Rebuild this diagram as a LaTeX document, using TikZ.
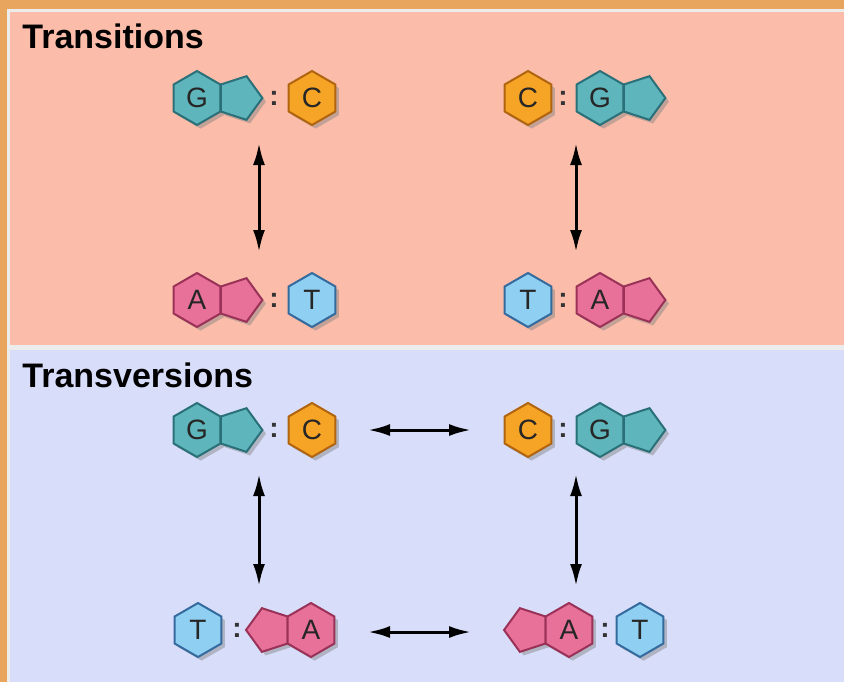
\documentclass[tikz,border=0pt]{standalone}
\usepackage{fontspec}
\setmainfont{Liberation Sans}
\usetikzlibrary{shapes.geometric, shadows, arrows.meta}

\definecolor{bgorange}{HTML}{E8A55E}
\definecolor{panelpink}{HTML}{FBBDAA}
\definecolor{panelblue}{HTML}{D8DDFA}
\definecolor{gfill}{HTML}{5FB5BC}\definecolor{gline}{HTML}{2A7078}
\definecolor{cfill}{HTML}{F6A425}\definecolor{cline}{HTML}{B06410}
\definecolor{afill}{HTML}{E8719A}\definecolor{aline}{HTML}{9A3258}
\definecolor{tfill}{HTML}{8FCFF2}\definecolor{tline}{HTML}{346A9E}

\tikzset{
  base/.style={regular polygon, inner sep=0pt, line width=1pt,
    font=\fontsize{14}{16}\selectfont, text=black!85,
    drop shadow={shadow xshift=1.8pt, shadow yshift=-1.8pt, opacity=.45}},
  hexbase/.style={base, regular polygon sides=6, minimum size=27pt, shape border rotate=30},
  pentbase/.style={base, regular polygon sides=5, minimum size=22.97pt},
  pentright/.style={pentbase, shape border rotate=-90},
  pentleft/.style={pentbase, shape border rotate=90},
  gbase/.style={fill=gfill, draw=gline},
  cbase/.style={fill=cfill, draw=cline},
  abase/.style={fill=afill, draw=aline},
  tbase/.style={fill=tfill, draw=tline},
  pairdots/.style={font=\fontsize{14}{14}\bfseries, text=black!80, inner sep=0pt},
  heading/.style={anchor=west, font=\fontsize{17}{20}\bfseries, inner sep=0pt},
  mutarrow/.style={{Latex[length=11pt,width=6pt]}-{Latex[length=11pt,width=6pt]}, line width=1.5pt}
}

\begin{document}
\begin{tikzpicture}[x=0.5pt, y=-0.5pt]
  % background and the two panels
  \fill[bgorange] (0,0) rectangle (844,682);
  \fill[white!85!gray] (7,9) rectangle (844,682);
  \fill[panelpink] (10,12) rectangle (844,345);
  \fill[panelblue] (10,350) rectangle (844,682);
  \useasboundingbox (0,0) rectangle (844,682);

  \node[heading] (hTs) at (22,36) {Transitions};
  \node[heading] (hTv) at (22,375) {Transversions};

  % transitions, top row
  \node[hexbase, gbase] (g1) at (197,98) {G};
  \node[pentright, gbase] (g1p) at (239.4,98) {};
  \node[pairdots] (d1) at (274,98) {:};
  \node[hexbase, cbase] (c1) at (312,98) {C};

  \node[hexbase, cbase] (c2) at (528,98) {C};
  \node[pairdots] (d2) at (563,98) {:};
  \node[hexbase, gbase] (g2) at (600,98) {G};
  \node[pentright, gbase] (g2p) at (642.4,98) {};

  % transitions, bottom row
  \node[hexbase, abase] (a1) at (197,300) {A};
  \node[pentright, abase] (a1p) at (239.4,300) {};
  \node[pairdots] (d3) at (274,300) {:};
  \node[hexbase, tbase] (t1) at (312,300) {T};

  \node[hexbase, tbase] (t2) at (528,300) {T};
  \node[pairdots] (d4) at (563,300) {:};
  \node[hexbase, abase] (a2) at (600,300) {A};
  \node[pentright, abase] (a2p) at (642.4,300) {};

  % transversions, top row
  \node[hexbase, gbase] (g3) at (197,430) {G};
  \node[pentright, gbase] (g3p) at (239.4,430) {};
  \node[pairdots] (d5) at (274,430) {:};
  \node[hexbase, cbase] (c3) at (312,430) {C};

  \node[hexbase, cbase] (c4) at (528,430) {C};
  \node[pairdots] (d6) at (563,430) {:};
  \node[hexbase, gbase] (g4) at (600,430) {G};
  \node[pentright, gbase] (g4p) at (642.4,430) {};

  % transversions, bottom row
  \node[hexbase, tbase] (t3) at (198,630) {T};
  \node[pairdots] (d7) at (237,630) {:};
  \node[pentleft, abase] (a3p) at (269,630) {};
  \node[hexbase, abase] (a3) at (311,630) {A};

  \node[pentleft, abase] (a4p) at (527,630) {};
  \node[hexbase, abase] (a4) at (569,630) {A};
  \node[pairdots] (d8) at (605,630) {:};
  \node[hexbase, tbase] (t4) at (640,630) {T};

  % arrow ends
  \coordinate (ts1a) at (259,143); \coordinate (ts1b) at (259,252);
  \coordinate (ts2a) at (576,143); \coordinate (ts2b) at (576,252);
  \coordinate (tv1a) at (259,474); \coordinate (tv1b) at (259,586);
  \coordinate (tv2a) at (576,474); \coordinate (tv2b) at (576,586);
  \coordinate (tv3a) at (368,430); \coordinate (tv3b) at (471,430);
  \coordinate (tv4a) at (368,632); \coordinate (tv4b) at (471,632);

  \draw[mutarrow] (ts1a) -- (ts1b);
  \draw[mutarrow] (ts2a) -- (ts2b);
  \draw[mutarrow] (tv1a) -- (tv1b);
  \draw[mutarrow] (tv2a) -- (tv2b);
  \draw[mutarrow] (tv3a) -- (tv3b);
  \draw[mutarrow] (tv4a) -- (tv4b);
\end{tikzpicture}
\end{document}
